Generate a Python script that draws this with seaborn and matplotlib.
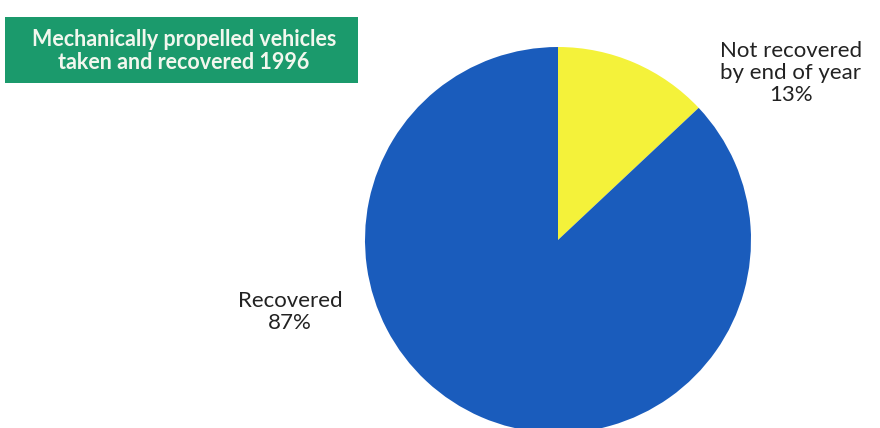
import matplotlib
matplotlib.use("Agg")
import matplotlib.pyplot as plt
import seaborn as sns
from matplotlib.patches import Rectangle

categories = ["Not recovered\nby end of year", "Recovered"]
values = [13, 87]
pct_labels = ["13%", "87%"]
colors = ["#f4f23a", "#1a5cbc"]
title = "Mechanically propelled vehicles\ntaken and recovered 1996"

sns.set_theme(style="white")
plt.rcParams['font.family'] = ['Lato', 'DejaVu Sans']

W, H = 880, 428
fig = plt.figure(figsize=(8.8, 4.28), dpi=100)
fig.patch.set_facecolor("white")

cx, cy, r = 558, 240, 193
ax = fig.add_axes([(cx - r) / W, (H - cy - r) / H, 2 * r / W, 2 * r / H])
ax.pie(values, colors=colors, startangle=90, counterclock=False,
       wedgeprops=dict(linewidth=0), radius=1)
ax.set_xlim(-1, 1)
ax.set_ylim(-1, 1)
ax.set_aspect("equal")
ax.axis("off")

# title box
fig.patches.append(Rectangle((5 / W, 1 - 83 / H), 353 / W, 66 / H,
                             transform=fig.transFigure, facecolor="#1b9a6c",
                             edgecolor="none"))
fig.text(184 / W, 1 - 51 / H, title, ha="center", va="center", color="#f2f7ee",
         fontsize=15.5, fontweight="bold", linespacing=1.15)

fig.text(791 / W, 1 - 73 / H, categories[0] + "\n" + pct_labels[0],
         ha="center", va="center", fontsize=16, color="#222222", linespacing=1.1)
fig.text(290 / W, 1 - 312 / H, categories[1] + "\n" + pct_labels[1],
         ha="center", va="center", fontsize=16, color="#222222", linespacing=1.1)

fig.savefig("out.png", dpi=100, facecolor="white")
